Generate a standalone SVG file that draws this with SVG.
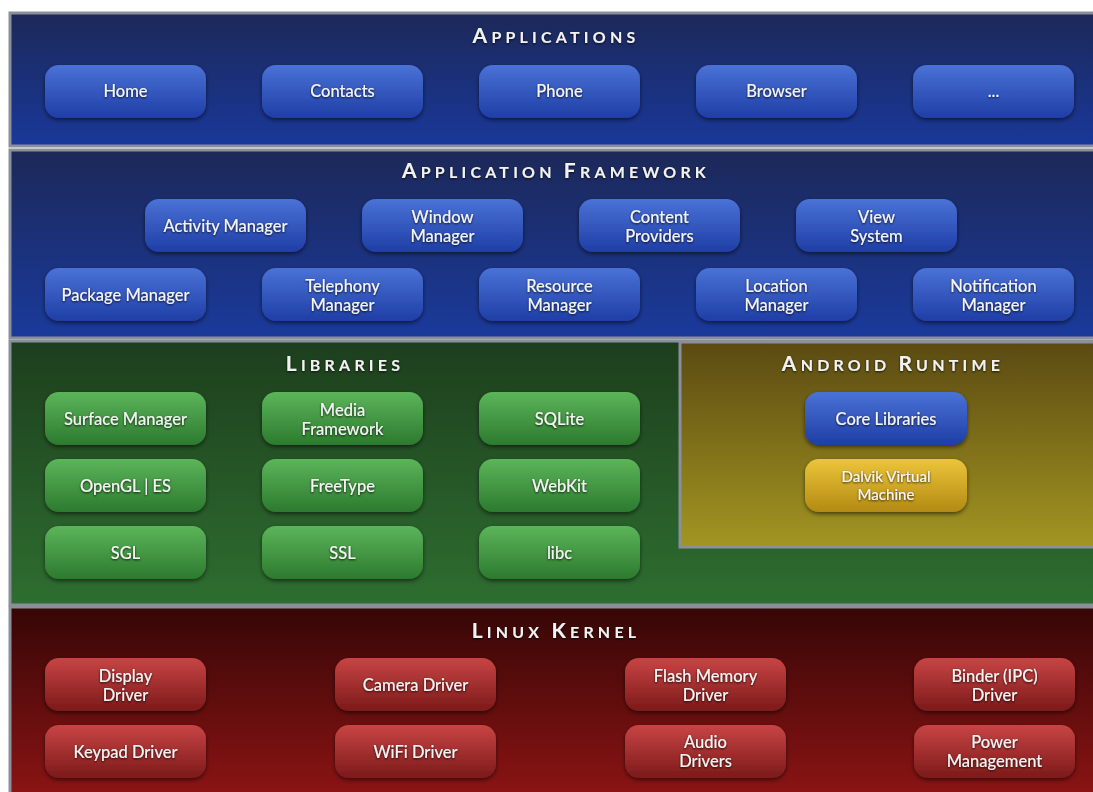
<svg xmlns="http://www.w3.org/2000/svg" width="1093" height="792" viewBox="0 0 1093 792">
<style>
.panel{stroke:#8a8f99;stroke-width:3}
.title{font-family:Lato,"Open Sans","Liberation Sans",sans-serif;font-weight:bold;fill:#f2f2f2;letter-spacing:4.2px;text-anchor:middle}
.big{font-size:21px}
.sm{font-size:16px}
.lbl{font-family:Lato,"Open Sans","Liberation Sans",sans-serif;font-size:16.5px;fill:#f4f4f4;text-anchor:middle;font-weight:500}
.btn{filter:url(#sh)}
</style>
<defs>
<filter id="sh" x="-10%" y="-10%" width="120%" height="130%"><feDropShadow dx="0" dy="2" stdDeviation="2" flood-color="#000" flood-opacity="0.55"/></filter>
<filter id="ts" x="-5%" y="-20%" width="110%" height="150%"><feDropShadow dx="0" dy="1" stdDeviation="0.8" flood-color="#000" flood-opacity="0.8"/></filter>
<linearGradient id="gApp" x1="0" y1="0" x2="0" y2="1"><stop offset="0" stop-color="#1c2858"/><stop offset="1" stop-color="#19389a"/></linearGradient>
<linearGradient id="gFw" x1="0" y1="0" x2="0" y2="1"><stop offset="0" stop-color="#1c2858"/><stop offset="1" stop-color="#1a3a9c"/></linearGradient>
<linearGradient id="gLib" x1="0" y1="0" x2="0" y2="1"><stop offset="0" stop-color="#1d3e1d"/><stop offset="1" stop-color="#2e6e30"/></linearGradient>
<linearGradient id="gRt" x1="0" y1="0" x2="0" y2="1"><stop offset="0" stop-color="#5a4a12"/><stop offset="1" stop-color="#a39522"/></linearGradient>
<linearGradient id="gK" x1="0" y1="0" x2="0" y2="1"><stop offset="0" stop-color="#360606"/><stop offset="1" stop-color="#8c1414"/></linearGradient>
<linearGradient id="bB" x1="0" y1="0" x2="0" y2="1"><stop offset="0" stop-color="#4a72d6"/><stop offset="1" stop-color="#1f3ea6"/></linearGradient>
<linearGradient id="bG" x1="0" y1="0" x2="0" y2="1"><stop offset="0" stop-color="#5cb55a"/><stop offset="1" stop-color="#2c7a2e"/></linearGradient>
<linearGradient id="bY" x1="0" y1="0" x2="0" y2="1"><stop offset="0" stop-color="#ecc53a"/><stop offset="1" stop-color="#b38a12"/></linearGradient>
<linearGradient id="bR" x1="0" y1="0" x2="0" y2="1"><stop offset="0" stop-color="#c84444"/><stop offset="1" stop-color="#7c1a1a"/></linearGradient>
</defs>
<rect width="1093" height="792" fill="#ffffff"/>

<g id="applications">
<rect class="panel" x="10" y="13" width="1090" height="133" fill="url(#gApp)"/>
<text class="title" x="556" y="43" filter="url(#ts)"><tspan class="big">A</tspan><tspan class="sm">PPLICATIONS</tspan></text>
<g id="app-home" class="btn"><rect x="45" y="65" width="161" height="53" rx="14" fill="url(#bB)"/><text class="lbl" x="125.5" y="97" filter="url(#ts)">Home</text></g>
<g id="app-contacts" class="btn"><rect x="262" y="65" width="161" height="53" rx="14" fill="url(#bB)"/><text class="lbl" x="342.5" y="97" filter="url(#ts)">Contacts</text></g>
<g id="app-phone" class="btn"><rect x="479" y="65" width="161" height="53" rx="14" fill="url(#bB)"/><text class="lbl" x="559.5" y="97" filter="url(#ts)">Phone</text></g>
<g id="app-browser" class="btn"><rect x="696" y="65" width="161" height="53" rx="14" fill="url(#bB)"/><text class="lbl" x="776.5" y="97" filter="url(#ts)">Browser</text></g>
<g id="app-more" class="btn"><rect x="913" y="65" width="161" height="53" rx="14" fill="url(#bB)"/><text class="lbl" x="993.5" y="97" filter="url(#ts)">...</text></g>
</g>

<g id="framework">
<rect class="panel" x="10" y="150" width="1090" height="188" fill="url(#gFw)"/>
<text class="title" x="556" y="178" filter="url(#ts)"><tspan class="big">A</tspan><tspan class="sm">PPLICATION </tspan><tspan class="big">F</tspan><tspan class="sm">RAMEWORK</tspan></text>
<g id="fw-activity" class="btn"><rect x="145" y="199" width="161" height="53" rx="14" fill="url(#bB)"/><text class="lbl" x="225.5" y="232" filter="url(#ts)">Activity Manager</text></g>
<g id="fw-window" class="btn"><rect x="362" y="199" width="161" height="53" rx="14" fill="url(#bB)"/><text class="lbl" x="442.5" y="223" filter="url(#ts)">Window</text><text class="lbl" x="442.5" y="242" filter="url(#ts)">Manager</text></g>
<g id="fw-content" class="btn"><rect x="579" y="199" width="161" height="53" rx="14" fill="url(#bB)"/><text class="lbl" x="659.5" y="223" filter="url(#ts)">Content</text><text class="lbl" x="659.5" y="242" filter="url(#ts)">Providers</text></g>
<g id="fw-view" class="btn"><rect x="796" y="199" width="161" height="53" rx="14" fill="url(#bB)"/><text class="lbl" x="876.5" y="223" filter="url(#ts)">View</text><text class="lbl" x="876.5" y="242" filter="url(#ts)">System</text></g>
<g id="fw-package" class="btn"><rect x="45" y="268" width="161" height="53" rx="14" fill="url(#bB)"/><text class="lbl" x="125.5" y="301" filter="url(#ts)">Package Manager</text></g>
<g id="fw-telephony" class="btn"><rect x="262" y="268" width="161" height="53" rx="14" fill="url(#bB)"/><text class="lbl" x="342.5" y="292" filter="url(#ts)">Telephony</text><text class="lbl" x="342.5" y="311" filter="url(#ts)">Manager</text></g>
<g id="fw-resource" class="btn"><rect x="479" y="268" width="161" height="53" rx="14" fill="url(#bB)"/><text class="lbl" x="559.5" y="292" filter="url(#ts)">Resource</text><text class="lbl" x="559.5" y="311" filter="url(#ts)">Manager</text></g>
<g id="fw-location" class="btn"><rect x="696" y="268" width="161" height="53" rx="14" fill="url(#bB)"/><text class="lbl" x="776.5" y="292" filter="url(#ts)">Location</text><text class="lbl" x="776.5" y="311" filter="url(#ts)">Manager</text></g>
<g id="fw-notification" class="btn"><rect x="913" y="268" width="161" height="53" rx="14" fill="url(#bB)"/><text class="lbl" x="993.5" y="292" filter="url(#ts)">Notification</text><text class="lbl" x="993.5" y="311" filter="url(#ts)">Manager</text></g>
</g>

<g id="libraries">
<rect class="panel" x="10" y="341" width="1090" height="264" fill="url(#gLib)"/>
<text class="title" x="345" y="371" filter="url(#ts)"><tspan class="big">L</tspan><tspan class="sm">IBRARIES</tspan></text>
<g id="lib-surface" class="btn"><rect x="45" y="392" width="161" height="53" rx="14" fill="url(#bG)"/><text class="lbl" x="125.5" y="425" filter="url(#ts)">Surface Manager</text></g>
<g id="lib-media" class="btn"><rect x="262" y="392" width="161" height="53" rx="14" fill="url(#bG)"/><text class="lbl" x="342.5" y="416" filter="url(#ts)">Media</text><text class="lbl" x="342.5" y="435" filter="url(#ts)">Framework</text></g>
<g id="lib-sqlite" class="btn"><rect x="479" y="392" width="161" height="53" rx="14" fill="url(#bG)"/><text class="lbl" x="559.5" y="425" filter="url(#ts)">SQLite</text></g>
<g id="lib-opengl" class="btn"><rect x="45" y="459" width="161" height="53" rx="14" fill="url(#bG)"/><text class="lbl" x="125.5" y="492" filter="url(#ts)">OpenGL | ES</text></g>
<g id="lib-freetype" class="btn"><rect x="262" y="459" width="161" height="53" rx="14" fill="url(#bG)"/><text class="lbl" x="342.5" y="492" filter="url(#ts)">FreeType</text></g>
<g id="lib-webkit" class="btn"><rect x="479" y="459" width="161" height="53" rx="14" fill="url(#bG)"/><text class="lbl" x="559.5" y="492" filter="url(#ts)">WebKit</text></g>
<g id="lib-sgl" class="btn"><rect x="45" y="526" width="161" height="53" rx="14" fill="url(#bG)"/><text class="lbl" x="125.5" y="559" filter="url(#ts)">SGL</text></g>
<g id="lib-ssl" class="btn"><rect x="262" y="526" width="161" height="53" rx="14" fill="url(#bG)"/><text class="lbl" x="342.5" y="559" filter="url(#ts)">SSL</text></g>
<g id="lib-libc" class="btn"><rect x="479" y="526" width="161" height="53" rx="14" fill="url(#bG)"/><text class="lbl" x="559.5" y="559" filter="url(#ts)">libc</text></g>
</g>

<g id="runtime">
<rect class="panel" x="680" y="342" width="420" height="205" fill="url(#gRt)"/>
<text class="title" x="893" y="371" filter="url(#ts)"><tspan class="big">A</tspan><tspan class="sm">NDROID </tspan><tspan class="big">R</tspan><tspan class="sm">UNTIME</tspan></text>
<g id="rt-core" class="btn"><rect x="805" y="392" width="162" height="53" rx="14" fill="url(#bB)"/><text class="lbl" x="886" y="425" filter="url(#ts)">Core Libraries</text></g>
<g id="rt-dalvik" class="btn"><rect x="805" y="459" width="162" height="53" rx="14" fill="url(#bY)"/><text class="lbl" x="886" y="482" style="font-size:15px" filter="url(#ts)">Dalvik Virtual</text><text class="lbl" x="886" y="500" style="font-size:15px" filter="url(#ts)">Machine</text></g>
</g>

<g id="kernel">
<rect class="panel" x="10" y="607" width="1090" height="190" fill="url(#gK)"/>
<text class="title" x="556" y="638" filter="url(#ts)"><tspan class="big">L</tspan><tspan class="sm">INUX </tspan><tspan class="big">K</tspan><tspan class="sm">ERNEL</tspan></text>
<g id="k-display" class="btn"><rect x="45" y="658" width="161" height="53" rx="14" fill="url(#bR)"/><text class="lbl" x="125.5" y="682" filter="url(#ts)">Display</text><text class="lbl" x="125.5" y="701" filter="url(#ts)">Driver</text></g>
<g id="k-camera" class="btn"><rect x="335" y="658" width="161" height="53" rx="14" fill="url(#bR)"/><text class="lbl" x="415.5" y="691" filter="url(#ts)">Camera Driver</text></g>
<g id="k-flash" class="btn"><rect x="625" y="658" width="161" height="53" rx="14" fill="url(#bR)"/><text class="lbl" x="705.5" y="682" filter="url(#ts)">Flash Memory</text><text class="lbl" x="705.5" y="701" filter="url(#ts)">Driver</text></g>
<g id="k-binder" class="btn"><rect x="914" y="658" width="161" height="53" rx="14" fill="url(#bR)"/><text class="lbl" x="994.5" y="682" filter="url(#ts)">Binder (IPC)</text><text class="lbl" x="994.5" y="701" filter="url(#ts)">Driver</text></g>
<g id="k-keypad" class="btn"><rect x="45" y="725" width="161" height="53" rx="14" fill="url(#bR)"/><text class="lbl" x="125.5" y="758" filter="url(#ts)">Keypad Driver</text></g>
<g id="k-wifi" class="btn"><rect x="335" y="725" width="161" height="53" rx="14" fill="url(#bR)"/><text class="lbl" x="415.5" y="758" filter="url(#ts)">WiFi Driver</text></g>
<g id="k-audio" class="btn"><rect x="625" y="725" width="161" height="53" rx="14" fill="url(#bR)"/><text class="lbl" x="705.5" y="748" filter="url(#ts)">Audio</text><text class="lbl" x="705.5" y="767" filter="url(#ts)">Drivers</text></g>
<g id="k-power" class="btn"><rect x="914" y="725" width="161" height="53" rx="14" fill="url(#bR)"/><text class="lbl" x="994.5" y="748" filter="url(#ts)">Power</text><text class="lbl" x="994.5" y="767" filter="url(#ts)">Management</text></g>
</g>

<g id="connectors"></g>
</svg>
